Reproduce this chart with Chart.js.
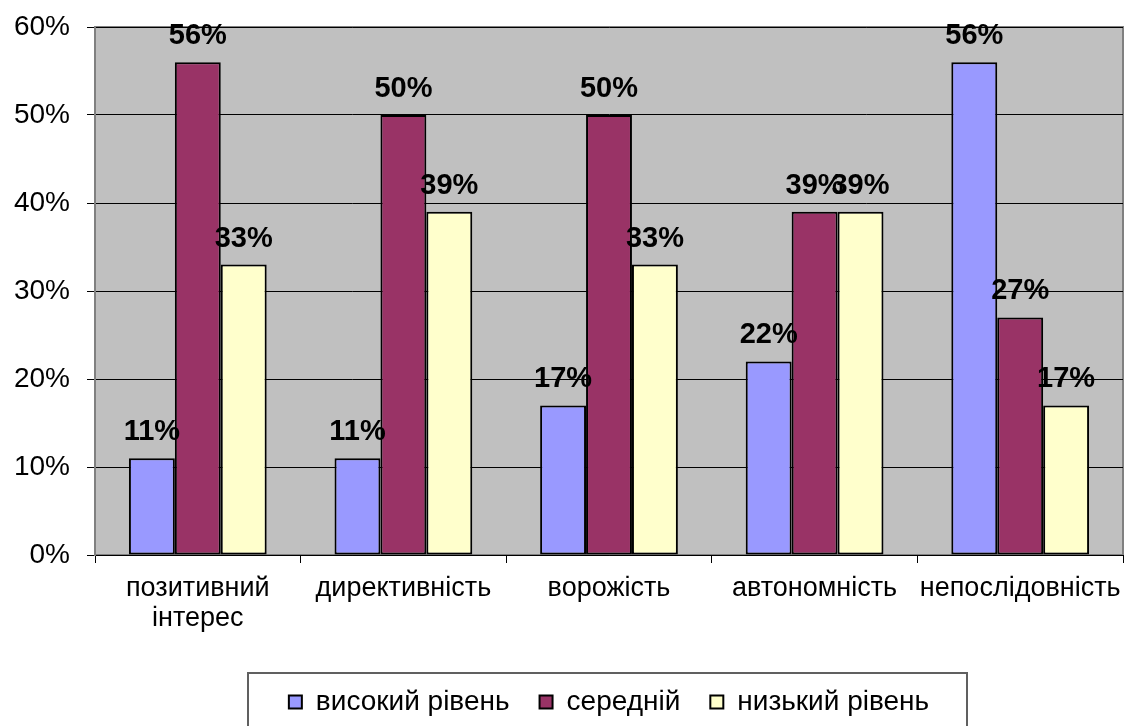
<!DOCTYPE html>
<html>
<head>
<meta charset="utf-8">
<script src="https://cdn.jsdelivr.net/npm/chart.js@4.4.1/dist/chart.umd.min.js"></script>
<style>
html,body{margin:0;padding:0;background:#fff;}
#wrap{width:1124px;height:726px;position:relative;}
</style>
</head>
<body>
<div id="wrap"><canvas id="c" width="1124" height="726"></canvas></div>
<script>
const categories = [['позитивний','інтерес'], 'директивність', 'ворожість', 'автономність', 'непослідовність'];
const seriesNames = ['високий рівень', 'середній', 'низький рівень'];
const highLevel = [11, 11, 17, 22, 56];
const midLevel = [56, 50, 50, 39, 27];
const lowLevel = [33, 39, 33, 39, 17];
const yTicks = [0, 10, 20, 30, 40, 50, 60];

const FONT = "'Liberation Sans', Arial, sans-serif";

const bgPlugin = {
  id: 'bgPlugin',
  beforeDraw(chart) {
    const {ctx, chartArea: a} = chart;
    ctx.save();
    ctx.fillStyle = '#C0C0C0';
    ctx.fillRect(a.left, a.top, a.right - a.left, a.bottom - a.top);
    ctx.strokeStyle = '#808080';
    ctx.lineWidth = 2;
    ctx.strokeRect(a.left, a.top, a.right - a.left, a.bottom - a.top);
    ctx.restore();
  },
  afterDraw(chart) {
    const {ctx} = chart;
    ctx.save();
    ctx.strokeStyle = '#606060';
    ctx.lineWidth = 2;
    ctx.strokeRect(248, 673, 719, 60);
    ctx.restore();
  }
};

const labelPlugin = {
  id: 'labelPlugin',
  afterDatasetsDraw(chart) {
    const {ctx} = chart;
    ctx.save();
    ctx.font = "bold 29px " + FONT;
    ctx.fillStyle = '#000';
    ctx.textAlign = 'center';
    ctx.textBaseline = 'middle';
    chart.data.datasets.forEach((ds, i) => {
      const meta = chart.getDatasetMeta(i);
      meta.data.forEach((bar, j) => {
        ctx.fillText(ds.data[j] + '%', bar.x, bar.y - 26);
      });
    });
    ctx.restore();
  }
};

new Chart(document.getElementById('c'), {
  type: 'bar',
  data: {
    labels: categories,
    datasets: [
      {label: seriesNames[0], data: highLevel, backgroundColor: '#9999FF', borderColor: '#000', borderWidth: 2, borderSkipped: false},
      {label: seriesNames[1], data: midLevel, backgroundColor: '#993366', borderColor: '#000', borderWidth: 2, borderSkipped: false},
      {label: seriesNames[2], data: lowLevel, backgroundColor: '#FFFFCC', borderColor: '#000', borderWidth: 2, borderSkipped: false}
    ]
  },
  options: {
    responsive: false,
    animation: false,
    devicePixelRatio: 1,
    layout: {padding: {top: 27, right: 1, left: 0, bottom: 0}},
    datasets: {bar: {categoryPercentage: 0.67, barPercentage: 1.0}},
    plugins: {
      tooltip: {enabled: false},
      legend: {
        display: true,
        position: 'bottom',
        fullSize: false,
        labels: {
          boxWidth: 13,
          boxHeight: 13,
          padding: 30,
          color: '#000',
          font: {family: FONT, size: 28}
        }
      }
    },
    scales: {
      x: {
        afterFit(s) { s.height = 103; s.paddingLeft = 0; s.paddingRight = 0; },
        grid: {display: true, drawOnChartArea: false, drawTicks: true, tickLength: 8, color: '#000', offset: true},
        border: {display: true, color: '#000', width: 1},
        ticks: {
          color: '#000',
          font: {family: FONT, size: 27, lineHeight: 1.1},
          padding: 11,
          maxRotation: 0,
          autoSkip: false
        }
      },
      y: {
        min: 0,
        max: 60,
        afterFit(s) { s.width = 95; s.paddingTop = 0; s.paddingBottom = 0; },
        afterBuildTicks(s) { s.ticks = yTicks.map(v => ({value: v})); },
        grid: {color: '#000', lineWidth: 1, tickLength: 8},
        border: {display: true, color: '#808080', width: 2},
        ticks: {
          color: '#000',
          font: {family: FONT, size: 28},
          padding: 17,
          callback: v => v + '%'
        }
      }
    }
  },
  plugins: [bgPlugin, labelPlugin]
});
</script>
</body>
</html>
